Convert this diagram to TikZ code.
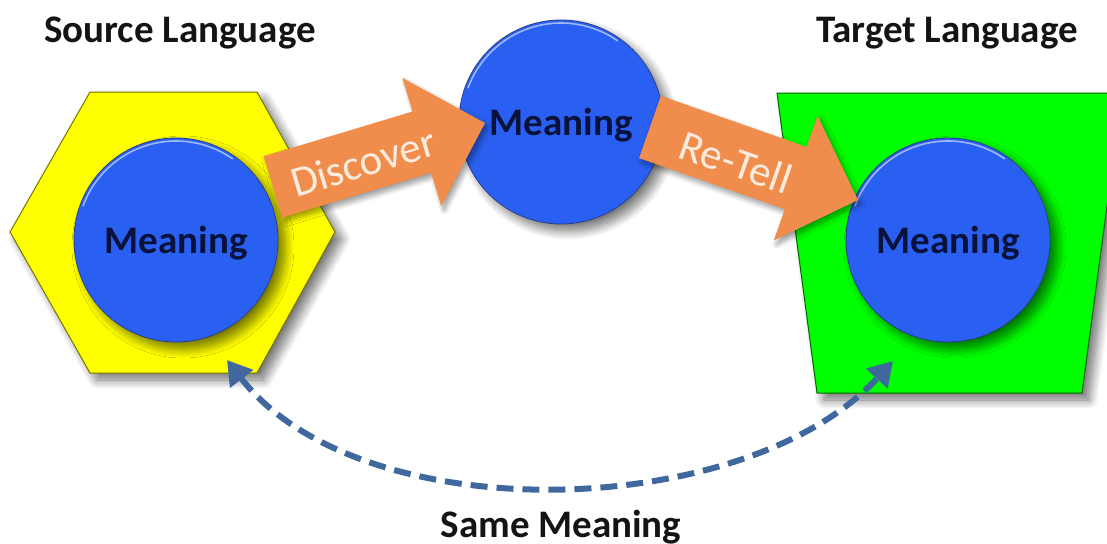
\documentclass[tikz,border=0pt]{standalone}
\usepackage{fontspec}
\setmainfont{Carlito}
\usetikzlibrary{arrows.meta,shadows.blur,calc}

\definecolor{circblue}{HTML}{2A60F2}
\definecolor{circedge}{HTML}{2A3F8A}
\definecolor{hexyellow}{HTML}{FFFF00}
\definecolor{trapgreen}{HTML}{00FF00}
\definecolor{arroworange}{HTML}{F08D4D}
\definecolor{dashblue}{HTML}{41689E}
\definecolor{meantext}{HTML}{08123A}
\definecolor{arrowtext}{HTML}{FDEBDD}
\definecolor{titletext}{HTML}{141414}

\begin{document}
\begin{tikzpicture}[x=1pt,y=-1pt,
  shapeshadow/.style={blur shadow={shadow xshift=7pt, shadow yshift=-7pt, shadow blur radius=9pt, shadow blur steps=12, shadow opacity=55}},
  smallshadow/.style={blur shadow={shadow xshift=3pt, shadow yshift=-4pt, shadow blur radius=5pt, shadow blur steps=8, shadow opacity=40}},
  hexbox/.style={fill=hexyellow, draw=hexyellow!45!black, line width=1pt, shapeshadow},
  trapbox/.style={fill=trapgreen, draw=trapgreen!40!black, line width=1pt, shapeshadow},
  meaningcircle/.style={circle, fill=circblue, draw=circedge, line width=0.8pt, minimum size=204pt, inner sep=0pt,
     text=meantext, font=\fontsize{39}{44}\selectfont\bfseries, text depth=0pt, shapeshadow},
  blockarrow/.style={fill=arroworange, smallshadow},
  arrowlabel/.style={text=arrowtext, font=\fontsize{43}{48}\selectfont, inner sep=0pt, text depth=0pt},
  titlelabel/.style={text=titletext, font=\fontsize{39}{44}\selectfont\bfseries, inner sep=0pt, anchor=base},
  rim/.style={white, opacity=0.55, line width=1.6pt},
  samearrow/.style={draw=dashblue, line width=6pt, dash pattern=on 17pt off 9pt,
     {Triangle[length=24pt,width=28pt]}-{Triangle[length=24pt,width=28pt]}}
]
\useasboundingbox (0,0) rectangle (1107,543);
\clip (0,0) rectangle (1107,543);

% language shapes
\filldraw[hexbox] (90,92) -- (257,92) -- (335,232) -- (257,373) -- (90,373) -- (10,232) -- cycle;
\filldraw[trapbox] (777,93) -- (1122,93) -- (1082,393) -- (817,393) -- cycle;

% meaning circles
\node[meaningcircle] (src) at (176,240) {Meaning};
\node[meaningcircle] (mid) at (561,122) {Meaning};
\node[meaningcircle] (tgt) at (948,240) {Meaning};
\foreach \c in {src,mid,tgt}{
  \draw[rim] ($(\c.center)+(160:99pt)$) arc[start angle=160, end angle=55, radius=99pt];
}

% block arrows
\fill[blockarrow] (263.7,156.4) -- (412.5,111.5) -- (402.4,77.9) -- (485,123) -- (441.2,206.3) -- (431.1,172.7) -- (282.3,217.6) -- cycle;
\fill[blockarrow] (660.9,95.9) -- (806.6,146.9) -- (817.6,115.8) -- (858,200) -- (773.8,240.4) -- (784.8,209.2) -- (639.1,158.1) -- cycle;
\node[arrowlabel, rotate=16.8] (disc) at (363,162) {Discover};
\node[arrowlabel, rotate=-19.3] (retell) at (736,162) {Re-Tell};

% titles
\node[titlelabel] (srclang) at (180,43) {Source Language};
\node[titlelabel] (tgtlang) at (947,43) {Target Language};
\node[titlelabel] (same) at (561,537) {Same Meaning};

% same meaning connector
\coordinate (sl) at (227,360);
\coordinate (sr) at (893,361);
\draw[samearrow] (sl) .. controls (360,532) and (745,522) .. (sr);
\end{tikzpicture}
\end{document}
